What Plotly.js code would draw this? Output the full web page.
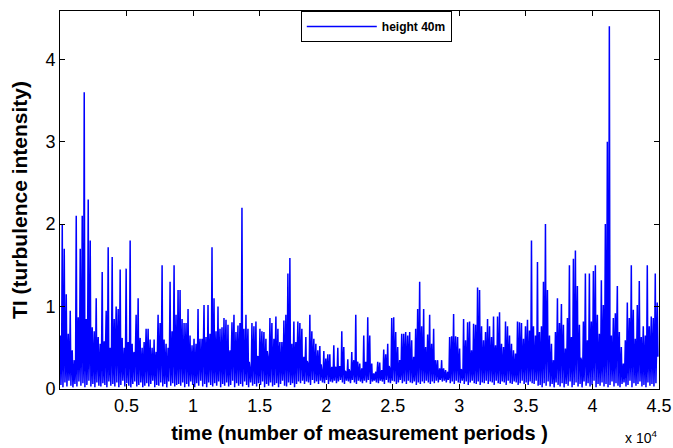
<!DOCTYPE html>
<html>
<head>
<meta charset="utf-8">
<script src="https://cdn.plot.ly/plotly-3.0.1.min.js"></script>
<style>html,body{margin:0;padding:0;background:#fff}#chart{width:673px;height:448px}</style>
</head>
<body>
<div id="chart"></div>
<script>
// Sampling step of the reading (measurement periods between two read samples)
const step = 150;
// Local maxima of TI (one per 150 periods)
const peaks = [
 0.65,2.0,1.7,1.15,0.67,0.95,0.47,0.35,2.1,0.87,
 1.7,2.1,3.6,0.85,2.3,1.8,0.75,0.7,1.1,0.63,
 0.55,1.42,0.58,0.95,1.72,0.5,1.6,0.85,1.0,0.97,
 1.45,0.62,0.5,1.46,0.57,1.8,0.55,0.45,0.9,1.1,
 0.62,0.5,0.57,0.73,0.73,0.6,0.5,0.6,0.45,0.9,
 0.8,1.5,0.6,0.55,0.5,1.3,0.7,1.5,0.9,1.2,
 1.2,0.85,0.8,0.8,0.97,0.65,0.53,0.61,0.55,0.97,
 0.61,0.61,1.02,0.63,1.02,0.67,1.72,1.1,0.7,1.0,
 0.73,0.75,0.86,0.84,0.78,0.47,0.81,0.9,0.69,0.77,
 0.8,2.2,0.73,0.9,0.73,0.25,0.8,0.76,0.82,0.4,
 0.73,0.7,0.69,0.61,0.39,0.86,0.8,0.61,0.88,0.73,
 0.57,0.57,0.83,0.9,1.4,1.59,0.55,0.82,0.57,0.82,
 0.8,0.73,0.39,0.63,0.31,0.9,0.7,0.61,0.55,0.47,
 0.52,0.23,0.46,0.37,0.42,0.42,0.27,0.53,0.27,0.5,
 0.27,0.7,0.51,0.21,0.36,0.21,0.45,0.35,0.9,0.33,
 0.31,0.25,0.65,0.33,0.87,0.65,0.31,0.19,0.21,0.33,
 0.32,0.23,0.48,0.42,0.55,0.25,0.86,0.87,0.69,0.51,
 0.35,0.67,0.67,0.69,0.65,0.69,0.59,0.39,0.73,0.97,
 1.3,0.76,0.97,0.51,0.66,0.9,0.55,0.73,0.35,0.35,
 0.25,0.35,0.25,0.23,0.21,0.63,0.64,0.91,0.64,0.63,
 0.49,0.23,0.85,0.59,0.81,0.82,0.47,0.79,0.78,1.23,
 1.2,0.76,0.59,0.69,0.85,0.76,0.63,0.88,0.53,0.88,
 0.93,0.55,0.51,0.82,0.76,0.65,0.55,0.47,0.43,0.82,
 0.81,0.8,0.61,0.76,0.84,0.71,1.8,0.76,0.65,1.54,
 0.69,0.76,1.3,2.0,1.2,0.65,0.55,0.35,0.69,1.1,
 0.8,1.03,0.78,0.49,0.86,1.5,0.63,1.58,1.68,1.25,
 0.78,0.35,0.82,1.4,0.59,1.4,0.82,1.43,1.5,0.9,
 0.67,1.32,1.02,2.0,3.0,4.4,0.65,0.86,0.92,1.25,
 0.69,0.51,0.31,0.59,1.05,0.86,1.5,0.96,0.61,1.02,
 1.31,0.63,0.76,0.65,1.5,0.76,0.88,0.86,1.4,1.05
];
// Local minima of TI (after each maximum)
const troughs = [
 0.05,0.02,0.08,0.03,0.10,0.04,0.02,0.06,0.03,0.09,
 0.04,0.07,0.02,0.05,0.10,0.03,0.06,0.02,0.08,0.04,
 0.03,0.07,0.05,0.02,0.09,0.04,0.06,0.03,0.08,0.02,
 0.05,0.10,0.03,0.07,0.04,0.02,0.06,0.09,0.03,0.05,
 0.08,0.02,0.04,0.07,0.03,0.06,0.10,0.02,0.05,0.04,
 0.08,0.03,0.06,0.02,0.09,0.04,0.07,0.03,0.05,0.06,
 0.04,0.08,0.02,0.06,0.03,0.09,0.05,0.02,0.07,0.04,
 0.10,0.03,0.06,0.02,0.08,0.05,0.03,0.07,0.04,0.09,
 0.02,0.06,0.04,0.08,0.03,0.05,0.10,0.02,0.07,0.04,
 0.06,0.03,0.09,0.05,0.02,0.08,0.04,0.06,0.03,0.07,
 0.05,0.09,0.02,0.06,0.04,0.08,0.03,0.05,0.07,0.02,
 0.06,0.10,0.04,0.03,0.08,0.05,0.07,0.02,0.06,0.09,
 0.07,0.10,0.06,0.09,0.08,0.05,0.11,0.07,0.09,0.06,
 0.10,0.08,0.07,0.11,0.06,0.09,0.08,0.10,0.07,0.09,
 0.11,0.08,0.06,0.10,0.09,0.07,0.11,0.08,0.06,0.10,
 0.09,0.07,0.10,0.08,0.11,0.06,0.09,0.10,0.08,0.07,
 0.10,0.09,0.06,0.11,0.08,0.07,0.10,0.09,0.06,0.08,
 0.11,0.07,0.09,0.06,0.10,0.08,0.07,0.09,0.05,0.08,
 0.06,0.09,0.07,0.10,0.08,0.06,0.09,0.07,0.10,0.08,
 0.11,0.09,0.10,0.08,0.11,0.07,0.09,0.06,0.10,0.08,
 0.07,0.10,0.06,0.09,0.05,0.08,0.10,0.07,0.06,0.09,
 0.05,0.08,0.07,0.10,0.06,0.09,0.08,0.05,0.10,0.07,
 0.06,0.09,0.08,0.05,0.10,0.07,0.06,0.09,0.08,0.05,
 0.07,0.10,0.06,0.08,0.05,0.09,0.07,0.06,0.10,0.04,
 0.05,0.02,0.07,0.04,0.09,0.03,0.06,0.02,0.08,0.05,
 0.03,0.07,0.02,0.06,0.04,0.09,0.02,0.05,0.08,0.03,
 0.06,0.02,0.09,0.04,0.07,0.03,0.05,0.10,0.02,0.06,
 0.04,0.08,0.03,0.06,0.02,0.05,0.09,0.03,0.07,0.04,
 0.02,0.06,0.08,0.03,0.05,0.10,0.02,0.07,0.04,0.06,
 0.09,0.03,0.05,0.02,0.08,0.04,0.06,0.03,0.07,0.40
];
const mids = [
 0.35,0.45,0.30,0.50,0.28,0.40,0.32,0.25,0.45,0.38,
 0.50,0.30,0.42,0.35,0.48,0.28,0.40,0.33,0.45,0.30,
 0.38,0.25,0.42,0.35,0.30,0.45,0.28,0.40,0.50,0.32,
 0.36,0.28,0.44,0.30,0.38,0.25,0.42,0.35,0.30,0.46,
 0.28,0.40,0.33,0.45,0.30,0.38,0.25,0.35,0.42,0.30,
 0.45,0.28,0.38,0.32,0.40,0.27,0.44,0.30,0.36,0.40,
 0.42,0.30,0.48,0.35,0.28,0.44,0.33,0.40,0.26,0.45,
 0.32,0.38,0.50,0.28,0.42,0.35,0.30,0.46,0.27,0.40,
 0.36,0.30,0.44,0.25,0.38,0.32,0.48,0.28,0.42,0.35,
 0.30,0.45,0.27,0.40,0.33,0.22,0.44,0.30,0.38,0.25,
 0.42,0.35,0.30,0.46,0.24,0.40,0.32,0.37,0.28,0.44,
 0.33,0.26,0.40,0.35,0.30,0.45,0.28,0.38,0.32,0.36,
 0.30,0.38,0.26,0.34,0.22,0.36,0.30,0.28,0.33,0.25,
 0.30,0.18,0.26,0.22,0.28,0.20,0.17,0.25,0.19,0.27,
 0.18,0.30,0.22,0.16,0.24,0.17,0.26,0.20,0.30,0.18,
 0.22,0.17,0.28,0.20,0.32,0.25,0.18,0.15,0.17,0.22,
 0.20,0.16,0.26,0.22,0.28,0.18,0.33,0.36,0.30,0.26,
 0.22,0.30,0.34,0.28,0.32,0.27,0.30,0.24,0.33,0.38,
 0.40,0.32,0.36,0.28,0.34,0.38,0.27,0.30,0.22,0.20,
 0.17,0.22,0.16,0.15,0.16,0.28,0.32,0.36,0.30,0.26,
 0.24,0.17,0.34,0.28,0.36,0.32,0.25,0.38,0.30,0.40,
 0.36,0.30,0.27,0.34,0.38,0.30,0.28,0.40,0.26,0.36,
 0.42,0.28,0.25,0.36,0.32,0.30,0.27,0.24,0.25,0.38,
 0.35,0.40,0.30,0.36,0.42,0.33,0.45,0.36,0.30,0.44,
 0.36,0.40,0.48,0.52,0.44,0.35,0.30,0.22,0.38,0.45,
 0.40,0.48,0.36,0.28,0.42,0.50,0.34,0.46,0.55,0.44,
 0.38,0.22,0.40,0.50,0.32,0.46,0.40,0.52,0.48,0.42,
 0.35,0.48,0.44,0.55,0.50,0.45,0.36,0.42,0.46,0.50,
 0.36,0.30,0.20,0.32,0.45,0.40,0.52,0.44,0.34,0.46,
 0.50,0.35,0.40,0.33,0.48,0.38,0.44,0.42,0.50,0.40
];
const xTickVals = [5000,10000,15000,20000,25000,30000,35000,40000,45000];
const xTickText = ["0.5","1","1.5","2","2.5","3","3.5","4","4.5"];
const yTickVals = [0,1,2,3,4];
const seriesName = "height 40m";

const xs = [], ys = [];
for (let i = 0; i < peaks.length; i++) {
  xs.push(i * step + 20);  ys.push(peaks[i]);
  xs.push(i * step + 70);  ys.push(troughs[i]);
  xs.push(i * step + 120); ys.push(mids[i]);
}

const font = "Liberation Sans, Arial, Helvetica, sans-serif";
const trace = {
  x: xs, y: ys, type: "scatter", mode: "lines", name: seriesName,
  line: {color: "#0000ff", width: 1.5}, showlegend: true
};
const layout = {
  width: 673, height: 448,
  margin: {l: 60, r: 14, t: 11, b: 59},
  paper_bgcolor: "#fff", plot_bgcolor: "#fff",
  font: {family: font, color: "#000", size: 14},
  showlegend: true,
  legend: {
    x: 0.402, y: 1, xanchor: "left", yanchor: "top",
    bgcolor: "#fff", bordercolor: "#000", borderwidth: 1,
    font: {family: font, size: 12, weight: "bold", color: "#000"},
    itemwidth: 70, tracegroupgap: 0
  },
  xaxis: {
    range: [0, 45000], tickmode: "array", tickvals: xTickVals, ticktext: xTickText,
    ticks: "inside", ticklen: 5, tickcolor: "#000", showline: true, linecolor: "#000",
    linewidth: 1, mirror: "ticks", showgrid: false, zeroline: false,
    tickfont: {size: 18},
    title: {text: "time (number of measurement periods )", font: {size: 20, weight: "bold"}, standoff: 11}
  },
  yaxis: {
    range: [0, 4.585], tickmode: "array", tickvals: yTickVals,
    ticks: "inside", ticklen: 5, tickcolor: "#000", showline: true, linecolor: "#000",
    linewidth: 1, mirror: "ticks", showgrid: false, zeroline: false,
    tickfont: {size: 18},
    title: {text: "TI (turbulence intensity)", font: {size: 21, weight: "bold"}, standoff: 12}
  },
  annotations: [{
    text: "x 10<sup>4</sup>", xref: "paper", yref: "paper", x: 1.0, y: -0.127,
    xanchor: "right", yanchor: "middle", showarrow: false, font: {size: 14}
  }]
};
Plotly.newPlot("chart", [trace], layout, {staticPlot: true, displayModeBar: false});
</script>
</body>
</html>
